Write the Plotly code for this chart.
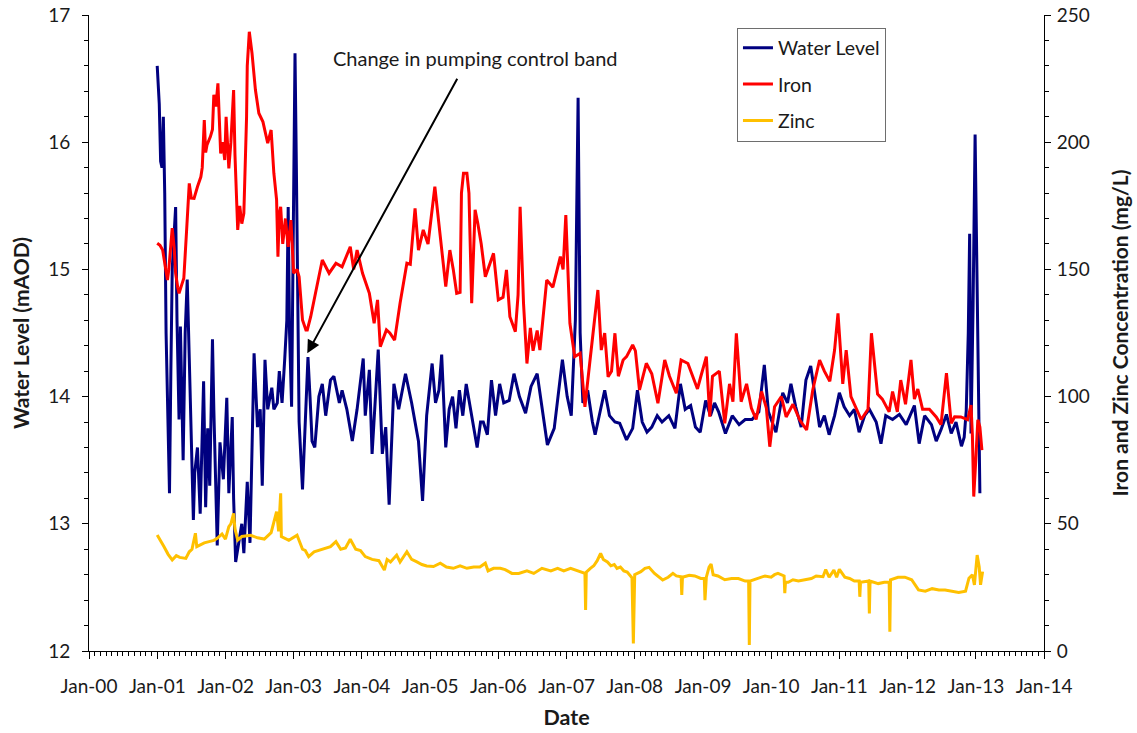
import numpy as np
import pandas as pd
import plotly.graph_objects as go

# ---- Water level (mAOD), time in decimal years ----
wl_year = [
    2001.00, 2001.03, 2001.05, 2001.07, 2001.09, 2001.11, 2001.13, 2001.16, 2001.18, 2001.20, 2001.22, 2001.25,
    2001.27, 2001.29, 2001.32, 2001.34, 2001.38, 2001.41, 2001.44, 2001.47, 2001.50, 2001.53, 2001.55, 2001.59,
    2001.63, 2001.65, 2001.68, 2001.71, 2001.74, 2001.77, 2001.81, 2001.83, 2001.86, 2001.88, 2001.92, 2001.97,
    2002.02, 2002.05, 2002.10, 2002.12, 2002.15, 2002.20, 2002.24, 2002.27, 2002.32, 2002.36, 2002.39, 2002.42,
    2002.47, 2002.51, 2002.54, 2002.58, 2002.62, 2002.68, 2002.71, 2002.76, 2002.79, 2002.83, 2002.87, 2002.90,
    2002.92, 2002.94, 2002.97, 2002.99,
    2003.02, 2003.04, 2003.06, 2003.08, 2003.13, 2003.17, 2003.21, 2003.24, 2003.27, 2003.31,
    2003.37, 2003.42, 2003.47, 2003.54, 2003.59, 2003.67, 2003.71, 2003.78, 2003.86, 2003.93,
    2004.02, 2004.05, 2004.11, 2004.15, 2004.24, 2004.30, 2004.35, 2004.40,
    2004.43, 2004.47, 2004.54, 2004.64, 2004.73, 2004.83, 2004.89, 2004.95,
    2005.03, 2005.08, 2005.13, 2005.17, 2005.23, 2005.28, 2005.33, 2005.38, 2005.43, 2005.48,
    2005.53, 2005.58, 2005.62, 2005.69, 2005.74, 2005.78, 2005.84, 2005.90, 2005.96,
    2006.02, 2006.08, 2006.16, 2006.23, 2006.31, 2006.40, 2006.48, 2006.57, 2006.65, 2006.72, 2006.82, 2006.94,
    2007.01, 2007.07, 2007.13, 2007.17, 2007.20, 2007.24, 2007.31, 2007.38,
    2007.42, 2007.50, 2007.56, 2007.63, 2007.71, 2007.78, 2007.88, 2007.97,
    2008.04, 2008.11, 2008.18, 2008.25, 2008.33, 2008.40, 2008.50, 2008.59, 2008.67, 2008.74, 2008.82, 2008.89, 2008.96,
    2009.04, 2009.11, 2009.17, 2009.23, 2009.33, 2009.43, 2009.53, 2009.62, 2009.72, 2009.82, 2009.90, 2009.96,
    2010.07, 2010.17, 2010.24, 2010.29, 2010.36, 2010.44, 2010.51, 2010.58, 2010.66, 2010.71, 2010.78, 2010.85, 2010.93,
    2011.00, 2011.07, 2011.15, 2011.22, 2011.29, 2011.37, 2011.44, 2011.54, 2011.61, 2011.68, 2011.78, 2011.88, 2011.98,
    2012.10, 2012.17, 2012.25, 2012.35, 2012.42, 2012.49, 2012.57, 2012.64, 2012.71, 2012.79,
    2012.83, 2012.86, 2012.89, 2012.91, 2012.93, 2012.96, 2012.99,
    2013.02, 2013.06,
]
wl_level = [
    16.60, 16.30, 15.85, 15.80, 16.20, 15.60, 14.50, 13.60, 13.24, 14.20, 15.00, 15.30,
    15.49, 14.60, 13.82, 14.55, 13.50, 14.50, 14.92, 14.30, 13.60, 13.03, 13.40, 13.60,
    13.08, 13.60, 14.12, 13.13, 13.75, 13.30, 14.45, 13.90, 13.24, 12.83, 13.64, 13.35,
    13.99, 13.24, 13.84, 13.20, 12.70, 12.85, 13.00, 12.77, 13.33, 12.85, 13.50, 14.34,
    13.76, 13.90, 13.30, 14.29, 13.90, 14.07, 13.90, 13.95, 14.20, 13.95, 14.30, 14.60,
    15.49, 14.50, 13.92, 15.00,
    16.70, 15.80, 14.50, 13.80, 13.27, 13.80, 14.31, 14.00, 13.65, 13.60,
    14.00, 14.10, 13.85, 14.13, 14.16, 13.95, 14.05, 13.90, 13.65, 13.90,
    14.30, 13.85, 14.21, 13.55, 14.37, 13.55, 13.76, 13.15,
    13.60, 14.10, 13.90, 14.18, 13.95, 13.65, 13.18, 13.85,
    14.26, 13.95, 14.05, 14.33, 13.60, 13.90, 14.00, 13.75, 14.05, 13.85,
    14.10, 13.95, 13.84, 13.60, 13.80, 13.80, 13.70, 14.13, 13.85,
    14.10, 13.95, 13.97, 14.18, 14.00, 13.87, 14.08, 14.18, 13.87, 13.62, 13.75, 14.29,
    14.00, 13.85, 14.60, 16.35, 14.50, 13.95, 14.05, 13.80,
    13.70, 13.90, 14.05, 13.85, 13.80, 13.79, 13.66, 13.75,
    14.05, 13.80, 13.72, 13.76, 13.85, 13.80, 13.85, 13.75, 14.10, 13.90, 13.93, 13.76, 13.72,
    13.97, 13.85, 13.95, 13.88, 13.71, 13.85, 13.78, 13.82, 13.82, 13.88, 14.25, 13.88,
    13.72, 14.03, 13.95, 14.10, 13.92, 13.76, 14.13, 14.24, 13.95, 13.76, 13.85, 13.70, 13.85,
    14.03, 13.92, 13.85, 13.90, 13.72, 13.85, 13.90, 13.80, 13.63, 13.85, 13.82, 13.86, 13.78,
    13.93, 13.63, 13.85, 13.78, 13.65, 13.74, 13.86, 13.71, 13.80, 13.61,
    13.68, 13.89, 14.50, 15.28, 13.71, 14.70, 16.06,
    15.00, 13.24,
]

# ---- Iron concentration (mg/L) ----
fe_year = [
    2001.00, 2001.04, 2001.08, 2001.11, 2001.15, 2001.17, 2001.20, 2001.22, 2001.25, 2001.27, 2001.30,
    2001.32, 2001.36, 2001.39, 2001.43, 2001.47, 2001.50, 2001.54, 2001.59, 2001.64, 2001.66, 2001.69,
    2001.71, 2001.73, 2001.78, 2001.81, 2001.83, 2001.86, 2001.89, 2001.91, 2001.93, 2001.96, 2001.99,
    2002.01, 2002.05, 2002.08, 2002.12, 2002.14, 2002.18, 2002.21, 2002.24, 2002.27, 2002.29,
    2002.31, 2002.32, 2002.35, 2002.39, 2002.44, 2002.49, 2002.55, 2002.62, 2002.67, 2002.71,
    2002.75, 2002.77, 2002.79, 2002.81, 2002.84, 2002.88, 2002.92, 2002.96, 2002.98,
    2003.00, 2003.05, 2003.08, 2003.13, 2003.18, 2003.20, 2003.25, 2003.32,
    2003.42, 2003.52, 2003.62, 2003.71, 2003.83, 2003.88, 2003.93,
    2004.01, 2004.11, 2004.18, 2004.23, 2004.27, 2004.36, 2004.41, 2004.48,
    2004.56, 2004.66, 2004.71, 2004.78, 2004.83, 2004.90, 2004.97,
    2005.07, 2005.15, 2005.23, 2005.29, 2005.34, 2005.39, 2005.44, 2005.46, 2005.49,
    2005.54, 2005.57, 2005.61, 2005.66, 2005.70, 2005.75, 2005.81, 2005.88, 2005.93,
    2006.00, 2006.07, 2006.12, 2006.17, 2006.25, 2006.29, 2006.32, 2006.37, 2006.42,
    2006.47, 2006.51, 2006.57, 2006.61, 2006.71, 2006.80, 2006.91, 2006.95, 2006.99,
    2007.05, 2007.12, 2007.20, 2007.27, 2007.34, 2007.41, 2007.46, 2007.51,
    2007.56, 2007.61, 2007.66, 2007.71, 2007.76, 2007.83, 2007.88, 2007.97,
    2008.01, 2008.07, 2008.17, 2008.25, 2008.34, 2008.44, 2008.51, 2008.61, 2008.68, 2008.78, 2008.85, 2008.92, 2008.97,
    2009.05, 2009.10, 2009.14, 2009.24, 2009.32, 2009.39, 2009.44, 2009.49,
    2009.56, 2009.64, 2009.71, 2009.78, 2009.86, 2009.93, 2009.98,
    2010.05, 2010.15, 2010.22, 2010.32, 2010.42, 2010.52, 2010.61, 2010.71, 2010.78, 2010.86, 2010.93, 2010.98,
    2011.05, 2011.10, 2011.17, 2011.25, 2011.32, 2011.42, 2011.47,
    2011.56, 2011.63, 2011.73, 2011.78, 2011.85, 2011.90, 2011.97,
    2012.05, 2012.10, 2012.15, 2012.22, 2012.32, 2012.42, 2012.49, 2012.57, 2012.64, 2012.69,
    2012.78, 2012.88, 2012.93, 2012.95, 2012.97, 2013.00, 2013.03, 2013.06, 2013.09,
]
fe_conc = [
    160.3, 159.5, 157.6, 152.0, 145.8, 150.0, 162.0, 166.2, 158.0, 148.5, 143.0,
    140.6, 144.0, 146.5, 165.0, 183.8, 178.0, 177.9, 182.5, 186.4, 190.0, 208.7,
    196.0, 198.9, 202.2, 205.0, 218.6, 214.0, 223.1, 210.0, 195.6, 200.0, 193.0,
    210.0, 189.7, 200.0, 220.5, 195.0, 165.5, 175.0, 168.0, 172.0, 190.0,
    210.0, 230.0, 243.4, 234.9, 220.5, 211.4, 208.0, 199.6, 204.8, 187.8,
    177.3, 155.0, 172.0, 174.6, 160.0, 170.0, 158.9, 169.4, 155.0,
    148.5, 150.0, 147.1, 130.1, 126.2, 126.2, 131.4, 140.6,
    153.7, 148.5, 152.4, 151.0, 158.9, 150.0, 157.6,
    148.5, 140.6, 128.8, 138.0, 119.6, 126.2, 125.0, 122.2,
    136.7, 152.4, 152.0, 174.0, 157.6, 165.5, 160.0,
    182.5, 162.9, 143.2, 157.6, 150.0, 140.6, 141.0, 180.0, 187.8,
    187.8, 180.0, 136.7, 173.4, 168.0, 160.0, 147.1, 152.4, 156.3,
    138.0, 139.0, 149.8, 131.4, 125.5, 140.0, 174.6, 136.7, 113.0,
    127.0, 118.0, 126.0, 118.3, 145.8, 143.0, 155.0, 150.0, 171.4,
    128.8, 115.7, 117.0, 96.0, 113.1, 131.4, 141.9, 118.3,
    125.0, 107.8, 110.0, 124.9, 108.0, 114.4, 115.7, 120.3,
    118.0, 102.6, 113.1, 109.0, 97.4, 114.4, 108.0, 101.3, 114.4, 113.0, 108.0, 103.0, 108.0,
    115.7, 92.1, 108.0, 110.0, 89.5, 105.0, 98.0, 124.9,
    98.0, 105.0, 95.5, 91.0, 102.0, 95.5, 80.3,
    96.0, 100.0, 92.0, 97.0, 90.8, 86.9, 102.6, 114.4, 110.0, 106.0, 118.3, 132.7,
    105.0, 118.3, 100.0, 95.0, 91.0, 95.0, 124.9,
    101.0, 99.0, 94.0, 102.0, 94.0, 106.5, 97.0,
    114.4, 99.0, 103.0, 95.0, 95.0, 92.0, 89.0, 109.2, 89.5, 92.1,
    92.0, 90.9, 96.7, 85.0, 60.7, 75.0, 90.9, 88.0, 79.0,
]

# ---- Zinc concentration (mg/L) ----
zn_year = [
    2001.00, 2001.06, 2001.10, 2001.16, 2001.22, 2001.28, 2001.33, 2001.42, 2001.47,
    2001.51, 2001.56, 2001.58, 2001.64, 2001.69, 2001.76, 2001.83, 2001.88, 2001.95,
    2002.00, 2002.05, 2002.08, 2002.12, 2002.14, 2002.18, 2002.24, 2002.37,
    2002.47, 2002.57, 2002.67, 2002.75, 2002.78, 2002.81, 2002.82, 2002.93,
    2003.05, 2003.13, 2003.17, 2003.22, 2003.30, 2003.38, 2003.47,
    2003.54, 2003.62, 2003.69, 2003.76, 2003.83, 2003.91, 2003.98,
    2004.05, 2004.15, 2004.25, 2004.33, 2004.37, 2004.42, 2004.51,
    2004.56, 2004.66, 2004.73, 2004.80, 2004.88, 2004.95,
    2005.05, 2005.15, 2005.24, 2005.34, 2005.44, 2005.54, 2005.64, 2005.73, 2005.81, 2005.85, 2005.93,
    2006.03, 2006.10, 2006.20, 2006.30, 2006.42, 2006.52, 2006.64, 2006.77, 2006.87, 2006.96,
    2007.06, 2007.16, 2007.21, 2007.27, 2007.28, 2007.29, 2007.35, 2007.40, 2007.45, 2007.50,
    2007.54, 2007.60, 2007.65, 2007.70, 2007.74, 2007.79, 2007.84, 2007.89, 2007.96, 2007.98,
    2008.00, 2008.04, 2008.09, 2008.15, 2008.21, 2008.29, 2008.34, 2008.41, 2008.49,
    2008.56, 2008.61, 2008.68, 2008.69, 2008.70, 2008.80, 2008.88, 2008.97,
    2009.02, 2009.03, 2009.05, 2009.09, 2009.12, 2009.15, 2009.22, 2009.32,
    2009.42, 2009.52, 2009.62, 2009.67, 2009.68, 2009.69, 2009.81, 2009.91,
    2010.00, 2010.05, 2010.10, 2010.19, 2010.20, 2010.21, 2010.25, 2010.32, 2010.40,
    2010.49, 2010.59, 2010.66, 2010.76, 2010.80, 2010.85, 2010.92, 2010.96,
    2011.00, 2011.08, 2011.15, 2011.22, 2011.29, 2011.30, 2011.31, 2011.40, 2011.43,
    2011.44, 2011.45, 2011.57, 2011.66, 2011.73, 2011.74, 2011.75, 2011.86, 2011.96,
    2012.06, 2012.16, 2012.26, 2012.36, 2012.46, 2012.55, 2012.65, 2012.75,
    2012.85, 2012.90, 2012.95, 2012.98, 2013.02, 2013.05, 2013.07, 2013.10,
]
zn_conc = [
    45.6, 43.0, 41.0, 38.0, 35.8, 37.5, 36.8, 36.4, 39.0,
    40.0, 46.3, 41.0, 42.0, 42.5, 43.0, 43.5, 44.3, 46.0,
    44.0, 48.9, 50.0, 54.1, 48.0, 43.6, 45.0, 45.5,
    44.5, 44.0, 46.5, 54.8, 47.0, 62.0, 45.0, 43.5,
    45.5, 40.0, 39.5, 37.1, 39.0, 39.7, 40.5,
    41.0, 43.0, 40.0, 40.5, 43.9, 40.0, 39.5,
    37.1, 36.0, 35.5, 31.8, 36.0, 35.0, 37.7,
    35.0, 39.0, 36.0, 35.1, 34.0, 33.4,
    33.2, 34.5, 33.0, 32.5, 33.5, 32.5, 33.0, 33.0, 34.5, 31.5, 32.5,
    32.5, 32.0, 30.5, 30.5, 31.5, 30.5, 32.5, 31.5, 32.5, 31.5,
    32.5, 31.5, 31.0, 30.5, 16.1, 31.0, 32.5, 33.5, 35.5, 38.4,
    36.0, 35.0, 33.5, 34.0, 32.5, 33.0, 31.5, 31.0, 28.8, 3.0,
    30.0, 30.5, 31.2, 32.5, 32.9, 30.5, 29.5, 27.9, 29.0,
    30.5, 29.5, 29.2, 22.0, 29.0, 29.8, 29.5, 28.5,
    28.5, 20.0, 29.0, 33.0, 34.2, 30.0, 29.5, 28.0,
    28.5, 28.5, 27.5, 27.5, 2.4, 27.5, 28.5, 29.5,
    29.0, 30.0, 30.5, 29.5, 22.7, 27.0, 27.0, 28.0, 27.5,
    28.0, 28.5, 29.5, 29.2, 32.0, 29.0, 31.8, 29.0,
    32.1, 29.0, 28.5, 27.5, 27.5, 21.3, 27.0, 27.5, 27.5,
    14.8, 27.5, 26.5, 27.0, 27.0, 7.6, 28.0, 29.0, 29.0,
    28.0, 24.0, 23.5, 24.5, 24.0, 24.0, 23.5, 23.0,
    23.5, 28.6, 30.0, 26.0, 37.7, 33.0, 26.0, 31.2,
]

# Note about the change of pumping regime: label and arrow (decimal years, mAOD)
note_text = "Change in pumping control band"
note_label_pos = (2005.67, 16.66)
note_arrow_tail = (2005.41, 16.51)
note_arrow_tip = (2003.20, 14.34)


def to_dates(years):
    y = np.asarray(years, dtype=float)
    return pd.Timestamp("2000-01-01") + pd.to_timedelta((y - 2000.0) * 365.25, unit="D")


def to_date(year):
    return to_dates([year])[0]


FONT = "Lato, 'Open Sans', sans-serif"
TXT = "#1a1a1a"
LINE_W = 3

fig = go.Figure()
fig.add_trace(go.Scatter(
    x=to_dates(wl_year), y=wl_level, name="Water Level", mode="lines",
    line=dict(color="#000080", width=LINE_W), legendgroup="wl", yaxis="y",
))
fig.add_trace(go.Scatter(
    x=to_dates(fe_year), y=fe_conc, name="Iron", mode="lines",
    line=dict(color="#FF0000", width=LINE_W), legendgroup="fe", yaxis="y2",
))
fig.add_trace(go.Scatter(
    x=to_dates(zn_year), y=zn_conc, name="Zinc", mode="lines",
    line=dict(color="#FFC000", width=LINE_W), legendgroup="zn", yaxis="y2",
))

x_range = [to_date(2000.0), to_date(2014.0)]

fig.update_layout(
    width=1137, height=733, autosize=False,
    margin=dict(l=89, r=93, t=15, b=82, autoexpand=False),
    paper_bgcolor="white", plot_bgcolor="white",
    font=dict(family=FONT, size=19, color=TXT),
    showlegend=True,
    legend=dict(
        x=0.6785, y=0.9803, xanchor="left", yanchor="top",
        bgcolor="white", bordercolor="#6e6e6e", borderwidth=1,
        font=dict(family=FONT, size=19.5, color=TXT),
        tracegroupgap=8, traceorder="grouped", itemwidth=30,
    ),
    xaxis=dict(
        type="date", range=x_range, tick0="2000-01-01", dtick="M12", automargin=False,
        tickformat="%b-%y", ticks="outside", ticklen=7, tickwidth=1, tickcolor="black",
        showline=True, linecolor="black", linewidth=1,
        showgrid=False, zeroline=False,
        minor=dict(dtick="M1", ticks="outside", ticklen=4, tickwidth=1, tickcolor="black", showgrid=False),
        tickfont=dict(size=19), ticklabelstandoff=11,
        title=dict(text="<b>Date</b>", font=dict(size=21.5), standoff=14),
    ),
    # inner half of the yearly ticks so they cross the date axis
    xaxis2=dict(
        type="date", range=x_range, tick0="2000-01-01", dtick="M12", automargin=False,
        overlaying="x", anchor="y", side="bottom",
        ticks="inside", ticklen=6, tickwidth=1, tickcolor="black",
        showticklabels=False, showline=False, showgrid=False, zeroline=False,
    ),
    yaxis=dict(
        range=[12, 17], dtick=1, automargin=False,
        ticks="outside", ticklen=6, tickwidth=1, tickcolor="black",
        showline=True, linecolor="black", linewidth=1, showgrid=False, zeroline=False,
        minor=dict(dtick=0.2, ticks="outside", ticklen=4, tickwidth=1, tickcolor="black", showgrid=False),
        tickfont=dict(size=19), ticklabelstandoff=8,
        title=dict(text="<b>Water Level (mAOD)</b>", font=dict(size=21), standoff=12),
    ),
    yaxis2=dict(
        range=[0, 250], dtick=50, overlaying="y", side="right", anchor="x", automargin=False,
        ticks="outside", ticklen=6, tickwidth=1, tickcolor="black",
        showline=True, linecolor="black", linewidth=1, showgrid=False, zeroline=False,
        minor=dict(dtick=10, ticks="outside", ticklen=4, tickwidth=1, tickcolor="black", showgrid=False),
        tickfont=dict(size=19), ticklabelstandoff=2,
        title=dict(text="<b>Iron and Zinc Concentration (mg/L)</b>", font=dict(size=21), standoff=24),
    ),
)

fig.add_annotation(
    x=to_date(note_label_pos[0]), y=note_label_pos[1], xref="x", yref="y",
    text=note_text, showarrow=False, font=dict(family=FONT, size=20, color=TXT),
)
fig.add_annotation(
    x=to_date(note_arrow_tip[0]), y=note_arrow_tip[1], xref="x", yref="y",
    ax=to_date(note_arrow_tail[0]), ay=note_arrow_tail[1], axref="x", ayref="y",
    text="", showarrow=True, arrowhead=2, arrowsize=1.3, arrowwidth=2, arrowcolor="black",
    standoff=0,
)

fig.write_html("out.html")
